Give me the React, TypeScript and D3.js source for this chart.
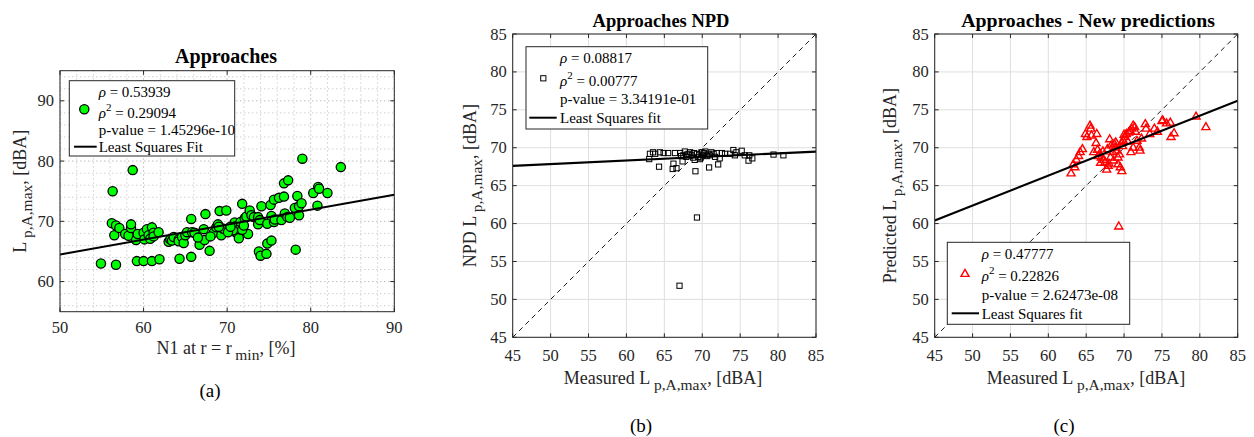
import React from "react";
import * as d3 from "d3";

// ---------- Panel (a) data ----------
const aX = [54.9,56.3,56.2,56.7,56.5,56.7,57.1,57.8,58.2,58.5,58.5,58.7,59.1,59.2,59.3,60.0,60.0,60.1,60.4,60.6,60.8,61.0,61.0,61.2,61.2,61.8,61.9,63.0,63.2,63.4,63.6,64.2,64.3,64.2,64.6,64.8,65.0,65.2,65.7,65.8,65.7,66.1,66.7,67.2,67.3,67.4,67.9,68.4,68.7,68.9,69.1,69.3,69.5,69.9,69.7,70.3,70.6,70.9,71.0,71.2,71.4,71.5,71.6,71.8,72.1,72.3,72.5,72.7,72.9,73.2,73.7,73.7,73.8,74.0,74.1,73.9,74.7,74.8,74.8,75.2,75.3,75.3,75.6,75.6,75.7,76.2,76.5,76.8,76.8,76.9,77.2,77.3,77.5,78.1,78.2,78.4,78.6,78.6,78.9,79.0,80.3,80.8,80.9,81.0,82.0,83.6,70.7,70.1,69.0,71.8,72.0,66.5,68.0,70.4];
const aY = [63.0,75.0,69.7,62.8,67.7,69.3,68.9,67.9,67.6,68.9,69.5,78.5,66.9,63.4,67.9,63.4,68.1,67.0,68.7,67.7,67.1,63.4,69.0,68.1,67.5,68.2,63.7,66.6,67.0,66.8,67.4,67.0,63.8,66.7,67.4,66.4,67.7,68.2,70.4,68.2,64.1,68.1,66.1,68.7,66.9,71.2,65.1,68.1,69.0,69.5,71.7,67.7,68.8,71.8,68.7,68.9,68.4,69.8,69.2,68.0,67.2,68.7,69.9,72.9,70.5,70.8,67.9,71.8,71.0,70.7,70.7,69.5,65.0,64.3,72.5,70.2,64.6,66.3,69.6,72.7,66.8,70.9,69.9,73.6,70.3,73.9,70.2,74.1,76.3,71.3,70.7,76.8,70.6,72.2,65.3,74.2,72.5,71.0,73.0,80.4,74.7,72.6,75.7,75.4,74.7,79.0,68.5,68.2,69.1,68.6,69.3,67.3,67.5,69.1];
const aFitX = [50, 90];
const aFitY = [64.5, 74.4];
const aXTicks = [50, 60, 70, 80, 90];
const aYTicks = [60, 70, 80, 90];
const aLegend = ["0.53939", "0.29094", "1.45296e-10"];

// ---------- Panel (b) data ----------
const bX = [63.0,63.1,63.5,63.8,64.3,64.4,64.9,65.5,66.1,66.2,66.4,66.6,67.0,67.1,67.4,67.5,67.7,67.9,68.2,68.4,68.6,68.8,69.0,69.1,69.3,69.3,69.5,69.7,69.9,70.1,70.4,70.6,70.8,70.9,71.2,71.5,71.7,72.1,72.3,72.6,73.0,73.7,74.1,74.3,74.5,75.2,75.6,76.1,76.2,76.6,79.4,80.7,68.0,68.9,69.6,70.2,71.0,71.9,67.2,69.8];
const bY = [68.5,69.2,69.4,69.2,67.5,69.4,69.3,69.3,67.2,67.9,69.3,67.3,51.8,69.3,68.2,69.0,69.5,68.8,69.2,69.4,69.0,68.7,68.4,66.9,60.8,69.2,68.8,68.5,69.4,69.0,69.5,68.9,69.2,67.4,69.4,69.2,68.8,67.8,68.6,69.3,69.2,69.2,69.7,69.0,69.4,69.6,69.0,68.3,69.0,68.6,69.1,69.0,69.1,69.3,69.1,69.3,69.0,69.3,68.9,68.7];
const bFitX = [45, 85];
const bFitY = [67.6, 69.5];
const bLegend = ["0.08817", "0.00777", "3.34191e-01"];

// ---------- Panel (c) data ----------
const cX = [63.0,63.3,63.7,64.0,64.2,64.5,63.5,64.9,65.1,65.5,65.6,65.7,66.4,66.3,66.5,66.8,67.0,67.3,67.5,67.7,67.9,68.1,68.2,68.5,68.7,68.8,69.0,69.2,69.2,69.3,69.5,69.7,69.7,69.9,70.1,70.3,70.6,70.8,71.0,71.2,71.4,70.9,71.2,71.7,72.0,72.1,72.3,72.8,72.9,73.4,74.0,74.4,75.0,75.1,75.6,76.1,76.2,76.6,79.5,80.8,66.0,66.6,68.6,69.8,70.5,67.8,68.3,67.2,68.0,69.4,70.0,71.5,66.9,68.9];
const cY = [66.7,67.9,68.5,69.0,69.5,69.9,67.5,71.9,71.5,73.0,72.6,71.7,71.9,70.7,69.8,69.3,68.8,68.5,68.2,67.2,67.7,71.2,68.8,69.5,70.6,70.1,69.7,68.8,67.9,59.7,67.5,67.0,70.8,71.0,71.5,71.9,72.1,72.3,72.6,73.0,72.8,69.5,70.1,71.0,70.1,69.7,71.3,73.2,72.6,71.9,72.6,72.2,73.6,73.7,73.3,73.4,71.5,72.0,74.2,72.8,69.5,69.0,68.4,70.3,70.9,69.9,70.4,69.6,68.0,69.2,71.8,72.2,68.1,70.8];
const cFitX = [45, 85];
const cFitY = [60.4, 76.2];
const cLegend = ["0.47777", "0.22826", "2.62473e-08"];

const bcTicks = [45, 50, 55, 60, 65, 70, 75, 80, 85];

const FONT = "'Liberation Serif', 'Times New Roman', serif";
const AX = "#262626";

function Sub({ main, sub, tail }: { main: string; sub: string; tail: string }) {
  return (
    <>
      {main + "\u2009"}
      <tspan dy={6} fontSize="0.86em">{sub}</tspan>
      <tspan dy={-6}>{tail}</tspan>
    </>
  );
}

function Legend({ box, vals, marker, lineText, textX, rows, mk, line }: any) {
  return (
    <g fontFamily={FONT} fontSize={15} fill="#000">
      <rect x={box[0]} y={box[1]} width={box[2] - box[0]} height={box[3] - box[1]} fill="#fff" stroke={AX} strokeWidth={1} />
      <text x={textX} y={rows[0]} dominantBaseline="central">
        <tspan fontStyle="italic">ρ</tspan> = {vals[0]}
      </text>
      <text x={textX} y={rows[1]} dominantBaseline="central">
        <tspan fontStyle="italic">ρ</tspan>
        <tspan dy={-6} fontSize={11}>2</tspan>
        <tspan dy={6}> = {vals[1]}</tspan>
      </text>
      <text x={textX} y={rows[2]} dominantBaseline="central">p-value = {vals[2]}</text>
      <text x={textX} y={rows[3]} dominantBaseline="central">{lineText}</text>
      <line x1={line[0]} x2={line[1]} y1={line[2]} y2={line[2]} stroke="#000" strokeWidth={2} />
      {marker(mk[0], mk[1])}
    </g>
  );
}

function circleMk(x: number, y: number, k?: any) {
  return <circle key={k} cx={x} cy={y} r={4.6} fill="#00ff00" stroke="#000" strokeWidth={1.3} />;
}
function squareMk(x: number, y: number, k?: any) {
  return <rect key={k} x={x - 2.6} y={y - 2.6} width={5.2} height={5.2} fill="none" stroke="#000" strokeWidth={1} />;
}
const triPath = d3.symbol().type(d3.symbolTriangle).size(28)();
function triMk(x: number, y: number, k?: any) {
  return <path key={k} d={triPath as string} transform={`translate(${x},${y + 0.8})`} fill="none" stroke="#ff0000" strokeWidth={1.4} />;
}

export default function App() {
  const ax = d3.scaleLinear().domain([50, 90]).range([60, 394.3]);
  const ay = d3.scaleLinear().domain([55, 95]).range([311.7, 70.7]);
  const aMinorX = d3.range(50, 91, 2);
  const aMinorY = d3.range(56, 95, 2);

  const bx = d3.scaleLinear().domain([45, 85]).range([512.7, 816]);
  const by = d3.scaleLinear().domain([45, 85]).range([337.3, 34]);
  const cx = d3.scaleLinear().domain([45, 85]).range([934.7, 1237.7]);
  const cy = d3.scaleLinear().domain([45, 85]).range([337.3, 34]);

  const sqPanel = (
    x: d3.ScaleLinear<number, number>,
    y: d3.ScaleLinear<number, number>,
    xs: number[],
    ys: number[],
    fitX: number[],
    fitY: number[],
    mk: (x: number, y: number, k?: any) => any,
    id: string
  ) => {
    const [x0, x1] = x.range();
    const [y0, y1] = y.range();
    return (
      <g>
        <rect x={x0} y={y1} width={x1 - x0} height={y0 - y1} fill="#fff" />
        {bcTicks.map((t) => (
          <g key={"g" + t}>
            <line x1={x(t)} x2={x(t)} y1={y0} y2={y1} stroke="#dfdfdf" strokeWidth={1} />
            <line x1={x0} x2={x1} y1={y(t)} y2={y(t)} stroke="#dfdfdf" strokeWidth={1} />
          </g>
        ))}
        <defs>
          <clipPath id={"clip" + id}>
            <rect x={x0} y={y1} width={x1 - x0} height={y0 - y1} />
          </clipPath>
        </defs>
        <g clipPath={`url(#clip${id})`}>
          <line x1={x(45)} y1={y(45)} x2={x(85)} y2={y(85)} stroke="#000" strokeWidth={0.9} strokeDasharray="5,4" />
          {xs.map((v, i) => mk(x(v), y(ys[i]), i))}
          <line x1={x(fitX[0])} y1={y(fitY[0])} x2={x(fitX[1])} y2={y(fitY[1])} stroke="#000" strokeWidth={2.2} />
        </g>
        {bcTicks.map((t) => (
          <g key={"t" + t}>
            <line x1={x(t)} x2={x(t)} y1={y0} y2={y0 - 4} stroke={AX} />
            <line x1={x(t)} x2={x(t)} y1={y1} y2={y1 + 4} stroke={AX} />
            <line x1={x0} x2={x0 + 4} y1={y(t)} y2={y(t)} stroke={AX} />
            <line x1={x1} x2={x1 - 4} y1={y(t)} y2={y(t)} stroke={AX} />
            <text x={x(t)} y={y0 + 18} textAnchor="middle" dominantBaseline="central" fontFamily={FONT} fontSize={16.5} fill={AX}>{t}</text>
            <text x={x0 - 6} y={y(t)} textAnchor="end" dominantBaseline="central" fontFamily={FONT} fontSize={16.5} fill={AX}>{t}</text>
          </g>
        ))}
        <rect x={x0} y={y1} width={x1 - x0} height={y0 - y1} fill="none" stroke={AX} strokeWidth={1} />
      </g>
    );
  };

  return (
    <svg width={1254} height={437} style={{ display: "block", position: "absolute", left: 0, top: 0, background: "#fff" }}>
      <rect width={1254} height={437} fill="#fff" />
      {/* ---------------- Panel (a) ---------------- */}
      <g>
        <rect x={60} y={70.7} width={334.3} height={241} fill="#fff" />
        {aMinorX.map((t) => (
          <line key={"mx" + t} x1={ax(t)} x2={ax(t)} y1={ay(55)} y2={ay(95)} stroke={t % 10 === 0 ? "#bdbdbd" : "#d0d0d0"} strokeWidth={1} strokeDasharray="1.5,2.5" />
        ))}
        {aMinorY.map((t) => (
          <line key={"my" + t} x1={ax(50)} x2={ax(90)} y1={ay(t)} y2={ay(t)} stroke={t % 10 === 0 ? "#bdbdbd" : "#d0d0d0"} strokeWidth={1} strokeDasharray="1.5,2.5" />
        ))}
        <defs>
          <clipPath id="clipA">
            <rect x={60} y={70.7} width={334.3} height={241} />
          </clipPath>
        </defs>
        <g clipPath="url(#clipA)">
          {aX.map((v, i) => circleMk(ax(v), ay(aY[i]), i))}
          <line x1={ax(aFitX[0])} y1={ay(aFitY[0])} x2={ax(aFitX[1])} y2={ay(aFitY[1])} stroke="#000" strokeWidth={2} />
        </g>
        {aXTicks.map((t) => (
          <g key={"ax" + t}>
            <line x1={ax(t)} x2={ax(t)} y1={ay(55)} y2={ay(55) - 4} stroke={AX} />
            <line x1={ax(t)} x2={ax(t)} y1={ay(95)} y2={ay(95) + 4} stroke={AX} />
            <text x={ax(t)} y={ay(55) + 16} textAnchor="middle" dominantBaseline="central" fontFamily={FONT} fontSize={16.5} fill={AX}>{t}</text>
          </g>
        ))}
        {aYTicks.map((t) => (
          <g key={"ay" + t}>
            <line x1={ax(50)} x2={ax(50) + 4} y1={ay(t)} y2={ay(t)} stroke={AX} />
            <line x1={ax(90)} x2={ax(90) - 4} y1={ay(t)} y2={ay(t)} stroke={AX} />
            <text x={ax(50) - 6} y={ay(t)} textAnchor="end" dominantBaseline="central" fontFamily={FONT} fontSize={16.5} fill={AX}>{t}</text>
          </g>
        ))}
        <rect x={60} y={70.7} width={334.3} height={241} fill="none" stroke={AX} strokeWidth={1} />
        <text x={226} y={56} textAnchor="middle" dominantBaseline="central" fontFamily={FONT} fontSize={20} fontWeight="bold">Approaches</text>
        <text x={226} y={348} textAnchor="middle" dominantBaseline="central" fontFamily={FONT} fontSize={18} fill={AX}>
          <Sub main="N1 at r = r" sub="min" tail=", [%]" />
        </text>
        <text transform={`translate(20,${(70.7 + 311.7) / 2}) rotate(-90)`} textAnchor="middle" dominantBaseline="central" fontFamily={FONT} fontSize={18} fill={AX}>
          <Sub main="L" sub="p,A,max" tail=", [dBA]" />
        </text>
        <Legend
          box={[69.3, 80.7, 234.7, 156]}
          vals={aLegend}
          textX={98.7}
          rows={[92.3, 112.7, 130, 147.3]}
          mk={[84.3, 109.3]}
          line={[74, 96.7, 146.7]}
          lineText="Least Squares Fit"
          marker={circleMk}
        />
        <text x={210} y={390} textAnchor="middle" dominantBaseline="central" fontFamily={FONT} fontSize={19}>(a)</text>
      </g>

      {/* ---------------- Panel (b) ---------------- */}
      {sqPanel(bx, by, bX, bY, bFitX, bFitY, squareMk, "B")}
      <text x={661} y={21} textAnchor="middle" dominantBaseline="central" fontFamily={FONT} fontSize={18.5} fontWeight="bold">Approaches NPD</text>
      <text x={663} y={378} textAnchor="middle" dominantBaseline="central" fontFamily={FONT} fontSize={18} fill={AX}>
        <Sub main="Measured L" sub="p,A,max" tail=", [dBA]" />
      </text>
      <text transform={`translate(470,${(34 + 337.3) / 2}) rotate(-90)`} textAnchor="middle" dominantBaseline="central" fontFamily={FONT} fontSize={18} fill={AX}>
        <Sub main="NPD L" sub="p,A,max" tail=", [dBA]" />
      </text>
      <Legend
        box={[526, 46.7, 707.7, 129]}
        vals={bLegend}
        textX={560}
        rows={[58.3, 80.7, 99.3, 118.3]}
        mk={[543.3, 78.3]}
        line={[529.3, 556.7, 117.7]}
        lineText="Least Squares fit"
        marker={squareMk}
      />
      <text x={641} y={425} textAnchor="middle" dominantBaseline="central" fontFamily={FONT} fontSize={19}>(b)</text>

      {/* ---------------- Panel (c) ---------------- */}
      {sqPanel(cx, cy, cX, cY, cFitX, cFitY, triMk, "C")}
      <text x={1088} y={20} textAnchor="middle" dominantBaseline="central" fontFamily={FONT} fontSize={19.8} fontWeight="bold">Approaches - New predictions</text>
      <text x={1086} y={378} textAnchor="middle" dominantBaseline="central" fontFamily={FONT} fontSize={18} fill={AX}>
        <Sub main="Measured L" sub="p,A,max" tail=", [dBA]" />
      </text>
      <text transform={`translate(890,${(34 + 337.3) / 2}) rotate(-90)`} textAnchor="middle" dominantBaseline="central" fontFamily={FONT} fontSize={18} fill={AX}>
        <Sub main="Predicted L" sub="p,A,max" tail=", [dBA]" />
      </text>
      <Legend
        box={[947.3, 242.3, 1129.7, 324.3]}
        vals={cLegend}
        textX={981.7}
        rows={[254, 276, 295.3, 314]}
        mk={[965, 273.3]}
        line={[951.7, 979, 313.3]}
        lineText="Least Squares fit"
        marker={triMk}
      />
      <text x={1064} y={425} textAnchor="middle" dominantBaseline="central" fontFamily={FONT} fontSize={19}>(c)</text>
    </svg>
  );
}
